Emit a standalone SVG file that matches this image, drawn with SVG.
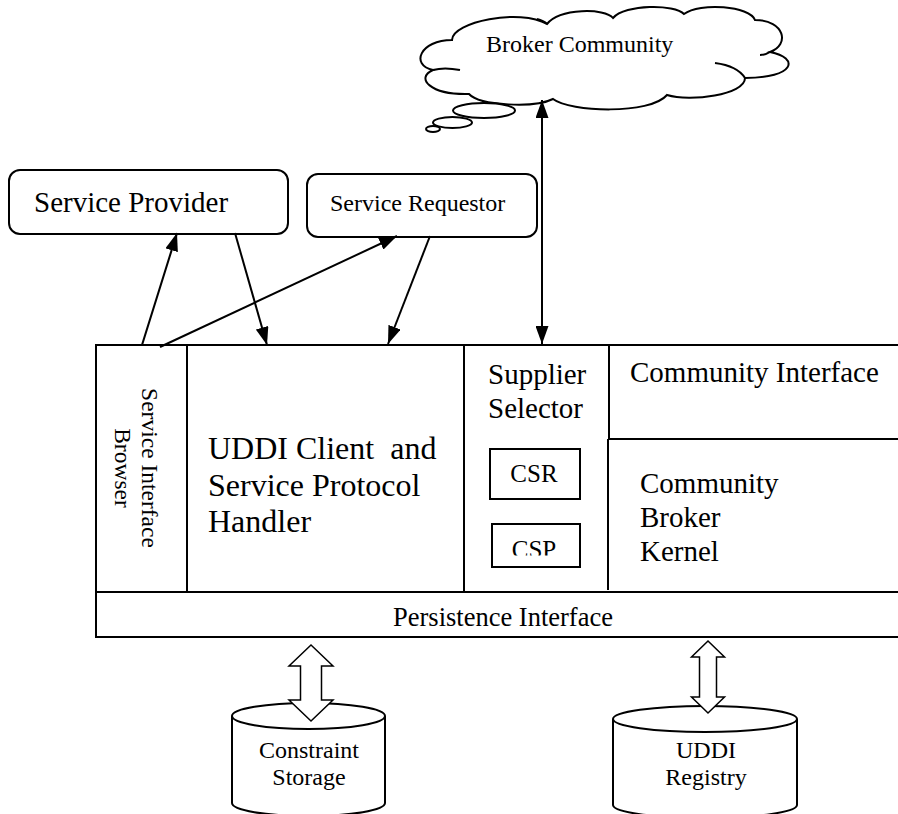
<svg xmlns="http://www.w3.org/2000/svg" width="898" height="814" viewBox="0 0 898 814">
  <defs>
    <style>
      .ln { fill: none; stroke: #000; stroke-width: 2; }
      .box { fill: #fff; stroke: #000; stroke-width: 2; }
      .thin { fill: #fff; stroke: #000; stroke-width: 1.5; }
      .conn { fill: none; stroke: #000; stroke-width: 2; marker-end: url(#head); }
      .t { font-family: "Liberation Serif", "Times New Roman", "DejaVu Serif", serif; fill: #000; }
    </style>
    <marker id="head" viewBox="0 0 18 13" markerUnits="userSpaceOnUse" markerWidth="18" markerHeight="13" refX="18" refY="6.5" orient="auto-start-reverse">
      <path d="M0,0 L18,6.5 L0,13 z" fill="#000"/>
    </marker>
    <clipPath id="cspClip">
      <rect x="492" y="524" width="88" height="31.5"/>
    </clipPath>
  </defs>
  <rect width="898" height="814" fill="#fff"/>

  <!-- cloud with thought bubbles -->
  <g id="broker-community">
    <path class="box" d="M452,40 C452,22 520,8 547,24 C560,8 605,8 613,18 C625,4 675,4 684,14 C700,2 750,6 755,20 C785,20 790,45 770,52 C800,58 795,78 745,78 C745,95 690,102 667,95 C650,115 570,112 553,99 C535,108 480,106 469,94 C430,95 415,78 433,70 C410,65 420,40 452,40 Z"/>
    <path class="ln" d="M715,63 C730,65 740,70 745,78"/>
    <path class="ln" d="M460,70 C450,68 440,68 433,70"/>
    <path class="ln" d="M547,24 C544,21 541,20 537,19"/>
    <path class="ln" d="M770,52 C767,54 764,55 760,55"/>
    <ellipse class="box" cx="484" cy="110.5" rx="31" ry="7.5"/>
    <ellipse class="box" cx="452.5" cy="122.5" rx="19.5" ry="5.5"/>
    <ellipse class="box" cx="433" cy="129" rx="7" ry="3"/>
    <text class="t" x="486" y="52" font-size="24">Broker Community</text>
  </g>

  <g id="service-provider">
    <rect class="box" x="9" y="170" width="279" height="64" rx="11"/>
    <text class="t" x="34" y="212" font-size="29">Service Provider</text>
  </g>

  <g id="service-requestor">
    <rect class="box" x="307" y="174" width="230" height="63" rx="11"/>
    <text class="t" x="330" y="211" font-size="24">Service Requestor</text>
  </g>

  <!-- broker frame -->
  <g id="broker-frame">
    <rect class="box" x="96" y="345" width="812" height="292"/>
    <line class="ln" x1="96" y1="592" x2="898" y2="592"/>
  </g>

  <g id="service-interface-browser">
    <line class="ln" x1="187" y1="345" x2="187" y2="592"/>
    <text class="t" transform="translate(142,468) rotate(90)" font-size="23.5" text-anchor="middle"><tspan x="0" y="0">Service Interface</tspan><tspan x="0" y="27">Browser</tspan></text>
  </g>

  <g id="uddi-client">
    <line class="ln" x1="464" y1="345" x2="464" y2="592"/>
    <text class="t" font-size="32" xml:space="preserve"><tspan x="208" y="459">UDDI Client  and</tspan><tspan x="208" y="496">Service Protocol</tspan><tspan x="208" y="532">Handler</tspan></text>
  </g>

  <g id="supplier-selector">
    <line class="ln" x1="609" y1="345" x2="609" y2="439"/>
    <line class="ln" x1="608" y1="439" x2="608" y2="590"/>
    <text class="t" font-size="29"><tspan x="488" y="384">Supplier</tspan><tspan x="488" y="418">Selector</tspan></text>
  </g>

  <g id="csr">
    <rect class="box" x="490" y="449" width="90" height="50"/>
    <text class="t" x="534" y="482" font-size="25" text-anchor="middle">CSR</text>
  </g>

  <g id="csp">
    <rect class="box" x="492" y="524" width="88" height="43"/>
    <text class="t" x="534" y="558" font-size="25" text-anchor="middle" clip-path="url(#cspClip)">CSP</text>
  </g>

  <g id="community-interface">
    <line class="ln" x1="608" y1="439" x2="898" y2="439"/>
    <text class="t" x="630" y="382" font-size="29">Community Interface</text>
  </g>

  <g id="community-broker-kernel">
    <text class="t" font-size="29"><tspan x="640" y="493">Community</tspan><tspan x="640" y="527">Broker</tspan><tspan x="640" y="561">Kernel</tspan></text>
  </g>

  <g id="persistence-interface">
    <text class="t" x="393" y="626" font-size="26.5">Persistence Interface</text>
  </g>

  <g id="constraint-storage">
    <path class="box" d="M232,716 L232,803 A76.5,13 0 0 0 385,803 L385,716"/>
    <ellipse class="box" cx="308.5" cy="716" rx="76.5" ry="13"/>
    <text class="t" font-size="24" text-anchor="middle"><tspan x="309" y="758">Constraint</tspan><tspan x="309" y="785">Storage</tspan></text>
  </g>

  <g id="uddi-registry">
    <path class="box" d="M613,719 L613,805 A92,13 0 0 0 797,805 L797,719"/>
    <ellipse class="box" cx="705" cy="719" rx="92" ry="13"/>
    <text class="t" font-size="24" text-anchor="middle"><tspan x="706" y="758">UDDI</tspan><tspan x="706" y="785">Registry</tspan></text>
  </g>

  <!-- connectors -->
  <g id="connectors">
    <line class="conn" x1="142" y1="345" x2="177" y2="233"/>
    <line class="conn" x1="235" y1="233" x2="267" y2="345"/>
    <line class="conn" x1="160" y1="347" x2="397" y2="236"/>
    <line class="conn" x1="430" y1="236" x2="388" y2="344"/>
    <line class="conn" x1="542" y1="100" x2="542" y2="344" style="marker-start: url(#head)"/>
    <polygon class="thin" points="311,645 333,666 321.5,666 321.5,700 333,700 311,721 289,700 300.5,700 300.5,666 289,666"/>
    <polygon class="thin" points="708,641 724.5,657 716.5,657 716.5,697 724.5,697 708,713 691.5,697 699.5,697 699.5,657 691.5,657"/>
  </g>
</svg>
